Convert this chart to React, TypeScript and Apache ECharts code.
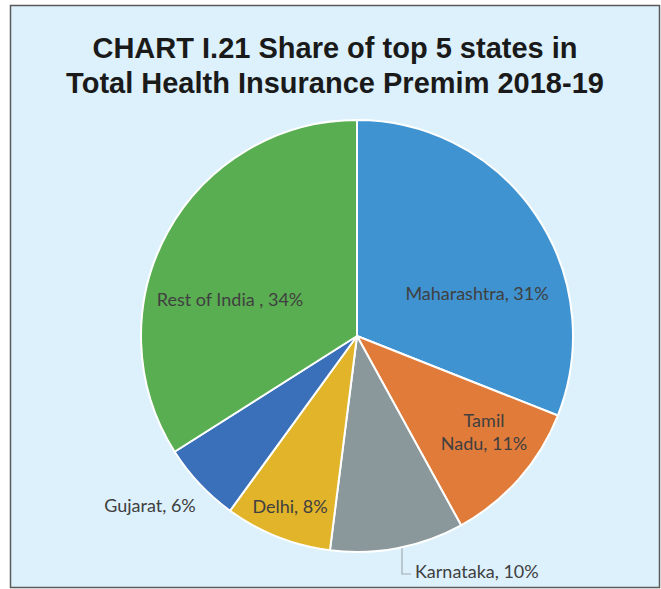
import React, { useEffect, useRef } from 'react';
import * as echarts from 'echarts';

const categories = ['Maharashtra', 'Tamil Nadu', 'Karnataka', 'Delhi', 'Gujarat', 'Rest of India'];
const shares = [31, 11, 10, 8, 6, 34];
const labelNames = ['Maharashtra', 'Tamil\nNadu', 'Karnataka', 'Delhi', 'Gujarat', 'Rest of India '];
const titleLines = ['CHART I.21 Share of top 5 states in', 'Total Health Insurance Premim 2018-19'];

const sliceColors = ['#3f93d1', '#e07b39', '#8a979b', '#e2b42a', '#3a6fb9', '#5aae52'];
const labelSpots: number[][] = [[477, 293], [484, 431], [415, 571], [290, 506], [150, 505], [230, 299]];

export default function App() {
  const ref = useRef<HTMLDivElement>(null);
  useEffect(() => {
    if (!ref.current) return;
    const chart = echarts.init(ref.current, null, { renderer: 'svg' });
    const option: any = {
      animation: false,
      backgroundColor: '#ffffff',
      graphic: [
        {
          type: 'rect',
          z: -10,
          shape: { x: 10.5, y: 5.5, width: 649, height: 582 },
          style: { fill: '#dcf1fc', stroke: '#5a5a5a', lineWidth: 1.5 },
        },
        ...titleLines.map((t, i) => ({
          type: 'text',
          z: 10,
          x: 335,
          y: 48 + i * 35,
          style: {
            text: t,
            fill: '#1a1a1a',
            font: 'bold 29px "Liberation Sans", Arial, sans-serif',
            textAlign: 'center',
            textVerticalAlign: 'middle',
          },
        })),
      ],
      series: [
        {
          type: 'pie',
          center: [357, 336],
          radius: 216,
          startAngle: 90,
          clockwise: true,
          avoidLabelOverlap: false,
          itemStyle: { borderColor: '#ffffff', borderWidth: 2 },
          label: {
            show: true,
            position: 'inside',
            fontFamily: 'Lato, "Open Sans", sans-serif',
            fontSize: 18,
            color: '#404040',
            lineHeight: 23,
            formatter: (p: any) => `${labelNames[p.dataIndex]}, ${shares[p.dataIndex]}%`,
          },
          labelLine: { show: false },
          labelLayout: (p: any) => {
            const i = p.dataIndex;
            const [x, y] = labelSpots[i];
            const res: any = { x, y, align: i === 2 ? 'left' : 'center', verticalAlign: 'middle' };
            if (i === 2) res.labelLinePoints = [[402, 548], [402, 574], [411, 574]];
            return res;
          },
          data: categories.map((c, i) => ({
            name: c,
            value: shares[i],
            itemStyle: { color: sliceColors[i] },
            ...(i === 2
              ? {
                  label: { position: 'outside' },
                  labelLine: { show: true, length: 10, length2: 10, lineStyle: { color: '#a3acb0', width: 1.2 } },
                }
              : {}),
          })),
        },
      ],
    };
    chart.setOption(option);
    return () => chart.dispose();
  }, []);
  return <div ref={ref} style={{ position: 'absolute', left: 0, top: 0, width: 661, height: 589 }} />;
}
